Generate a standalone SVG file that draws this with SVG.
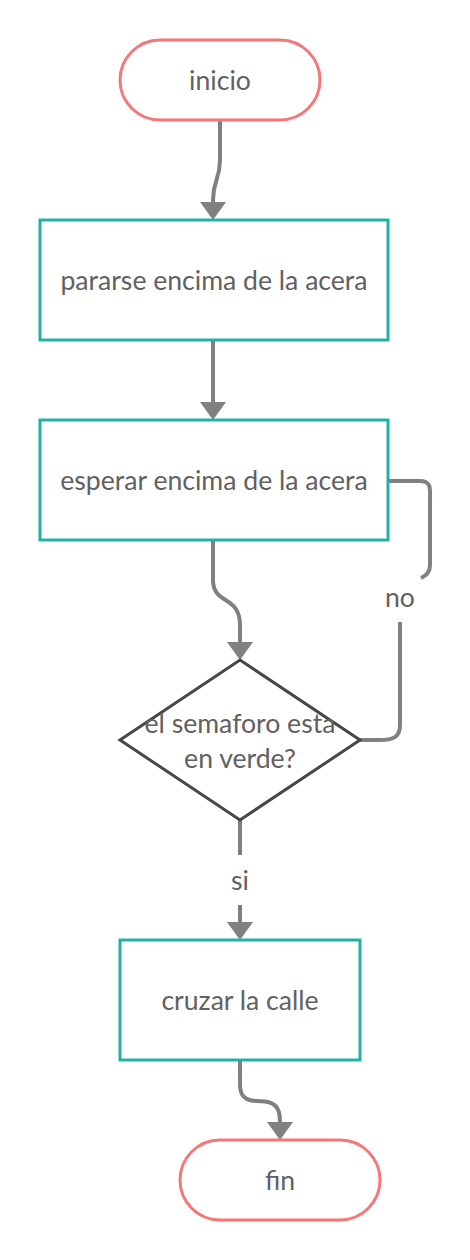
<svg xmlns="http://www.w3.org/2000/svg" width="470" height="1260" viewBox="0 0 470 1260">
<style>
.term{fill:#fff;stroke:#f57777;stroke-width:3}
.proc{fill:#fff;stroke:#22b0aa;stroke-width:3}
.dec{fill:#fff;stroke:#474747;stroke-width:3}
.t{font-family:Lato,"Open Sans",sans-serif;font-size:26.6px;fill:#616161;text-anchor:middle;dominant-baseline:central}
.c{fill:none;stroke:#808080;stroke-width:4}
.ah{fill:#808080}
</style>
<rect width="470" height="1260" fill="#fff"/>
<g id="connectors">
<path class="c" d="M220,120 V160 C220,180 213,180 213,200 V204"/>
<polygon class="ah" points="200,202 226,202 213,220"/>
<path class="c" d="M213,340 V404"/>
<polygon class="ah" points="200,402 226,402 213,420"/>
<path class="c" d="M213,540 V580 C213,605 240,595 240,625 V644"/>
<polygon class="ah" points="227,642 253,642 240,660"/>
<path class="c" d="M388,481 H420 C432,481 430,490 430,500 V565 C430,572 426,576 421,578"/>
<text class="t" x="400" y="597">no</text>
<path class="c" d="M400,622 V725 C400,738 392,740 380,740 H360"/>
<path class="c" d="M240,820 V855"/>
<text class="t" x="240" y="880">si</text>
<path class="c" d="M240,905 V924"/>
<polygon class="ah" points="227,922 253,922 240,940"/>
<path class="c" d="M240,1060 V1085 C240,1105 258,1100 268,1102 C280,1105 280,1115 280,1124"/>
<polygon class="ah" points="267,1122 293,1122 280,1140"/>
</g>
<g id="inicio"><rect class="term" x="120" y="40" width="200" height="80" rx="40"/><text class="t" x="220" y="80">inicio</text></g>
<g id="pararse"><rect class="proc" x="40" y="220" width="348" height="120"/><text class="t" x="214" y="280">pararse encima de la acera</text></g>
<g id="esperar"><rect class="proc" x="40" y="420" width="348" height="120"/><text class="t" x="214" y="480">esperar encima de la acera</text></g>
<g id="decision"><polygon class="dec" points="240,660 360,740 240,820 120,740"/><text class="t" x="240" y="723">el semaforo esta</text><text class="t" x="240" y="758">en verde?</text></g>
<g id="cruzar"><rect class="proc" x="120" y="940" width="240" height="120"/><text class="t" x="240" y="1000">cruzar la calle</text></g>
<g id="fin"><rect class="term" x="180" y="1140" width="200" height="80" rx="40"/><text class="t" x="280" y="1180">fin</text></g>
</svg>
